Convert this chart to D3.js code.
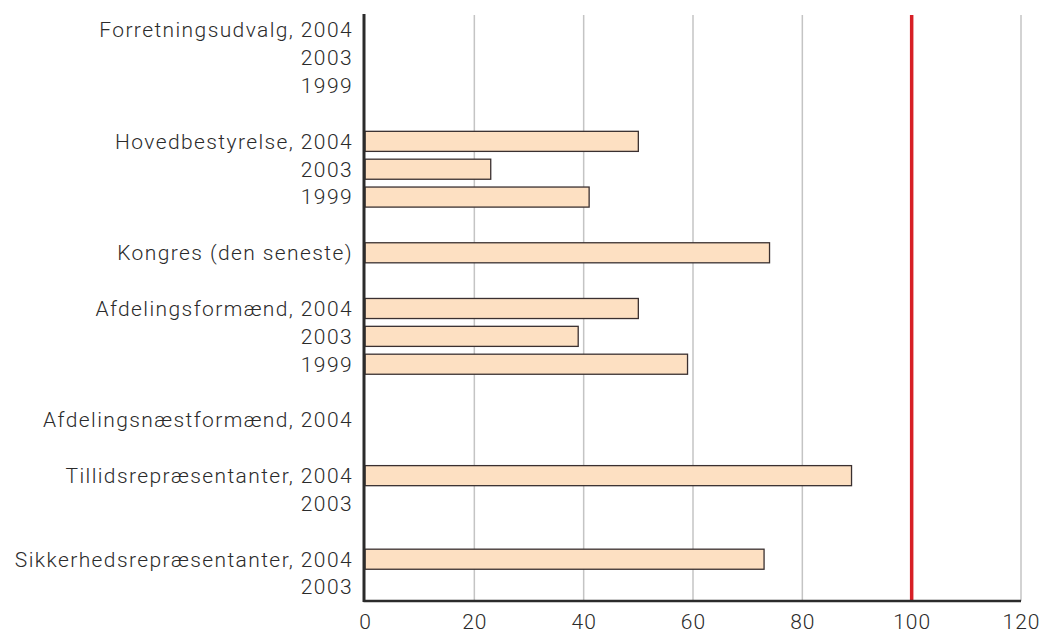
<!DOCTYPE html>
<html>
<head>
<meta charset="utf-8">
<script src="https://cdn.jsdelivr.net/npm/d3@7"></script>
<style>
  body { margin: 0; background: #fff; }
  text { font-family: Roboto, "Liberation Sans", Arial, sans-serif; font-weight: 300; fill: #2b2b2b; }
</style>
</head>
<body>
<div id="chart"></div>
<script>
// rows top to bottom, "" = spacer row
const labels = [
    "Forretningsudvalg, 2004", "2003", "1999", "",
    "Hovedbestyrelse, 2004", "2003", "1999", "",
    "Kongres (den seneste)", "",
    "Afdelingsformænd, 2004", "2003", "1999", "",
    "Afdelingsnæstformænd, 2004", "",
    "Tillidsrepræsentanter, 2004", "2003", "",
    "Sikkerhedsrepræsentanter, 2004", "2003"
]
const values = [
    null, null, null, null,
    50, 23, 41, null,
    74, null,
    50, 39, 59, null,
    null, null,
    89, null, null,
    73, null
]
const xTicks = [0, 20, 40, 60, 80, 100, 120]
const refValue = 100

const width = 1047, height = 635
const margin = {top: 15, right: 26, bottom: 34, left: 365}

const rows = labels.map((l, i) => ({label: l, value: values[i], idx: i}))

const svg = d3.select("#chart").append("svg")
    .attr("width", width)
    .attr("height", height)

const x = d3.scaleLinear()
    .domain([0, 120])
    .range([margin.left, width - margin.right])

const y = d3.scaleBand()
    .domain(rows.map(d => d.idx))
    .range([margin.top + 1, height - margin.bottom])
    .paddingInner(0.28)
    .paddingOuter(0.14)

// grid lines
svg.append("g")
    .selectAll("line")
    .data(xTicks.slice(1))
    .enter().append("line")
    .attr("x1", d => x(d)).attr("x2", d => x(d))
    .attr("y1", margin.top).attr("y2", height - margin.bottom)
    .attr("stroke", "#c4c4c4")
    .attr("stroke-width", 1.5)

// bars
svg.append("g")
    .selectAll("rect")
    .data(rows.filter(d => d.value != null))
    .enter().append("rect")
    .attr("x", x(0))
    .attr("y", d => y(d.idx))
    .attr("width", d => x(d.value) - x(0))
    .attr("height", y.bandwidth())
    .attr("fill", "#fde0c2")
    .attr("stroke", "#3a3030")
    .attr("stroke-width", 1.3)

// reference line at 100
svg.append("line")
    .attr("x1", x(refValue)).attr("x2", x(refValue))
    .attr("y1", margin.top).attr("y2", height - margin.bottom)
    .attr("stroke", "#d71f26")
    .attr("stroke-width", 3.5)

// axes
const xAxis = svg.append("g")
    .attr("transform", "translate(0," + (height - margin.bottom) + ")")
    .call(d3.axisBottom(x).tickValues(xTicks).tickSize(0).tickPadding(13))
xAxis.attr("font-family", null).attr("font-size", null)
xAxis.select(".domain").remove()
xAxis.selectAll("text")
    .style("font-size", "21px")
    .style("letter-spacing", "1px")
    .attr("fill", "#2b2b2b")

svg.append("line")
    .attr("x1", x(0) - 1.5).attr("x2", x(120))
    .attr("y1", height - margin.bottom).attr("y2", height - margin.bottom)
    .attr("stroke", "#2b2b2b")
    .attr("stroke-width", 2.5)

svg.append("line")
    .attr("x1", x(0) - 1).attr("x2", x(0) - 1)
    .attr("y1", margin.top - 1).attr("y2", height - margin.bottom + 1)
    .attr("stroke", "#2b2b2b")
    .attr("stroke-width", 3)

// row labels
svg.append("g")
    .selectAll("text")
    .data(rows.filter(d => d.label !== ""))
    .enter().append("text")
    .attr("x", x(0) - 12)
    .attr("y", d => y(d.idx) + y.bandwidth() / 2)
    .attr("dy", "0.35em")
    .attr("text-anchor", "end")
    .style("font-size", "21px")
    .style("letter-spacing", "1.4px")
    .text(d => d.label)
</script>
</body>
</html>
